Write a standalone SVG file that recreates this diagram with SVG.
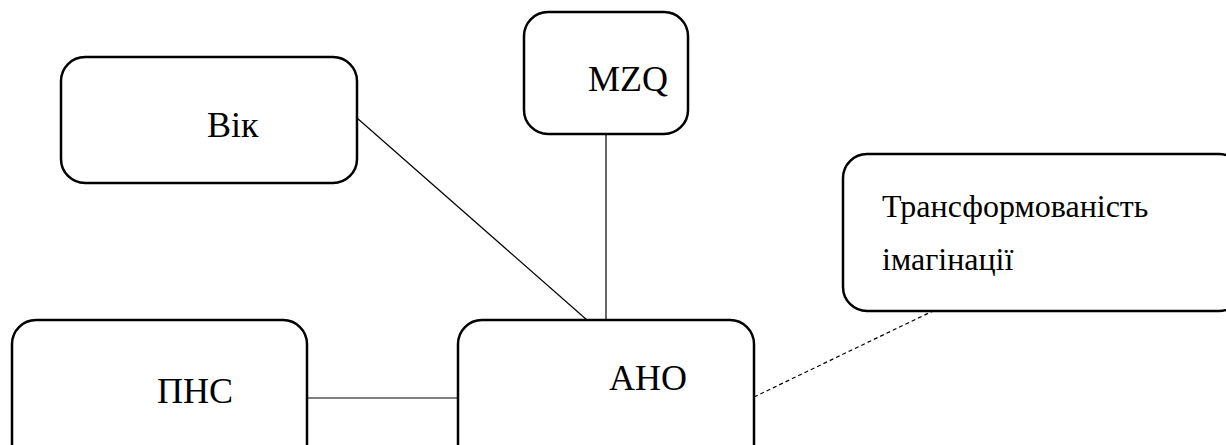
<svg xmlns="http://www.w3.org/2000/svg" width="1226" height="445" viewBox="0 0 1226 445">
  <style>
    .box { fill: #ffffff; stroke: #000000; stroke-width: 2.5; }
    .lbl { font-family: "Liberation Serif", "Times New Roman", serif; font-size: 36px; fill: #000000; }
    .lbl-sm { font-family: "Liberation Serif", "Times New Roman", serif; font-size: 32px; fill: #000000; }
    .link { stroke: #000000; stroke-width: 1.2; fill: none; }
    .link-dash { stroke: #000000; stroke-width: 1.2; fill: none; stroke-dasharray: 4 3; }
  </style>
  <rect width="1226" height="445" fill="#ffffff"/>

  <!-- connectors -->
  <g id="connectors">
    <line class="link" x1="357" y1="118" x2="587" y2="320"/>
    <line class="link" x1="606" y1="134" x2="606" y2="320"/>
    <line class="link" x1="307" y1="398" x2="458" y2="398"/>
    <line class="link-dash" x1="754" y1="397" x2="935" y2="310"/>
  </g>

  <g id="node-vik">
    <rect class="box" x="61" y="57" width="296" height="126" rx="24"/>
    <text class="lbl" x="207" y="137">Вік</text>
  </g>

  <g id="node-mzq">
    <rect class="box" x="524" y="12" width="164" height="122" rx="24"/>
    <text class="lbl" x="588" y="91">MZQ</text>
  </g>

  <g id="node-transform">
    <rect class="box" x="843" y="154" width="400" height="157" rx="24"/>
    <text class="lbl-sm" x="882" y="217">Трансформованість</text>
    <text class="lbl-sm" x="882" y="270">імагінації</text>
  </g>

  <g id="node-pns">
    <rect class="box" x="12" y="320" width="295" height="150" rx="24"/>
    <text class="lbl" x="157" y="403">ПНС</text>
  </g>

  <g id="node-aho">
    <rect class="box" x="458" y="320" width="296" height="150" rx="24"/>
    <text class="lbl" x="609" y="390">АНО</text>
  </g>
</svg>
